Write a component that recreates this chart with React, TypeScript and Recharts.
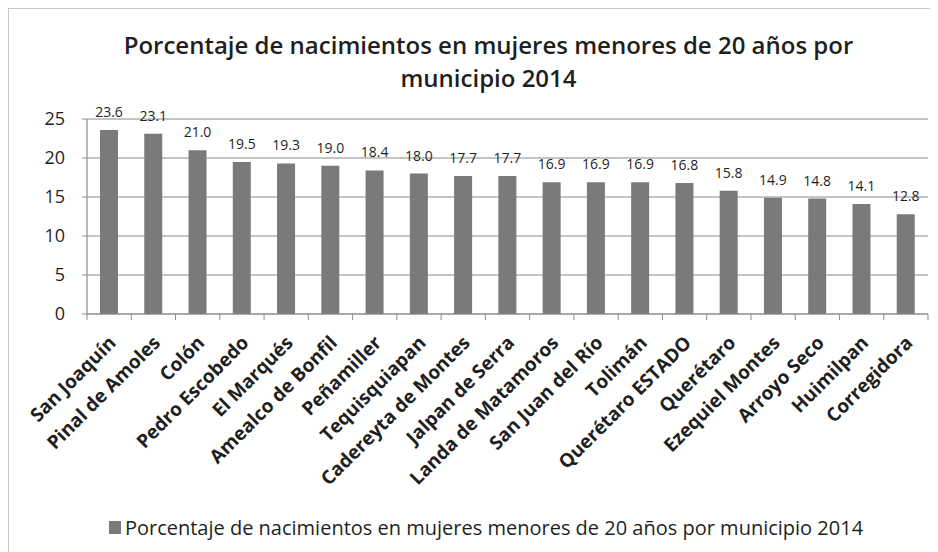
import React from "react";
import { Bar, BarChart, CartesianGrid, LabelList, XAxis, YAxis } from "recharts";

// Porcentaje de nacimientos en mujeres menores de 20 años, por municipio (2014)

const municipios = [
  "San Joaquín",
  "Pinal de Amoles",
  "Colón",
  "Pedro Escobedo",
  "El Marqués",
  "Amealco de Bonfil",
  "Peñamiller",
  "Tequisquiapan",
  "Cadereyta de Montes",
  "Jalpan de Serra",
  "Landa de Matamoros",
  "San Juan del Río",
  "Tolimán",
  "Querétaro ESTADO",
  "Querétaro",
  "Ezequiel Montes",
  "Arroyo Seco",
  "Huimilpan",
  "Corregidora",
];

const porcentajes = [
  23.6, 23.1, 21.0, 19.5, 19.3, 19.0, 18.4, 18.0, 17.7, 17.7, 16.9, 16.9, 16.9,
  16.8, 15.8, 14.9, 14.8, 14.1, 12.8,
];

const yTicks = [0, 5, 10, 15, 20, 25];

const TITLE = "Porcentaje de nacimientos en mujeres menores de 20 años por municipio 2014";

const data = municipios.map((name, i) => ({ name, value: porcentajes[i] }));

const W = 930;
const H = 544;
const M = { top: 111, right: 10, left: 19, bottom: 78 };
const Y_W = 60;
const BAND = (W - M.left - Y_W - M.right) / municipios.length;

const FONT = "'Open Sans', Lato, sans-serif";
const GRID = "#8c8c8c";
const BAR = "#7a7a7a";
const TEXT = "#1f1f1f";

function CatTick(props: any) {
  const { x, y, payload, index } = props;
  const last = index === municipios.length - 1;
  const ax = x + 8;
  const ay = y + 30;
  return (
    <g>
      <line x1={x - BAND / 2} x2={x - BAND / 2} y1={y} y2={y + 6} stroke={GRID} />
      {last && <line x1={x + BAND / 2} x2={x + BAND / 2} y1={y} y2={y + 6} stroke={GRID} />}
      <text
        x={ax}
        y={ay}
        transform={`rotate(-45, ${ax}, ${ay})`}
        textAnchor="end"
        fontSize={19}
        fontWeight={700}
        fill={TEXT}
        fontFamily={FONT}
      >
        {payload.value}
      </text>
    </g>
  );
}

export default function App() {
  return (
    <div
      style={{
        position: "relative",
        width: W,
        height: H,
        borderLeft: "1px solid #c8c8c8",
        borderTop: "1px solid #c8c8c8",
        boxSizing: "border-box",
        fontFamily: FONT,
        background: "#fff",
      }}
    >
      <div
        style={{
          position: "absolute",
          left: 0,
          top: 19,
          width: 959,
          textAlign: "center",
          fontSize: 24,
          fontWeight: 600,
          lineHeight: "33px",
          color: TEXT,
        }}
      >
        Porcentaje de nacimientos en mujeres menores de 20 años por
        <br />
        municipio 2014
      </div>
      <div style={{ position: "absolute", left: -1, top: -1 }}>
        <BarChart width={W} height={H} data={data} margin={M}>
          <CartesianGrid vertical={false} stroke={GRID} strokeWidth={1.2} />
          <XAxis
            dataKey="name"
            interval={0}
            height={160}
            tickLine={false}
            tickSize={0}
            tickMargin={0}
            axisLine={{ stroke: GRID, strokeWidth: 1.2 }}
            tick={<CatTick />}
          />
          <YAxis
            width={Y_W}
            domain={[0, 25]}
            ticks={yTicks}
            tickSize={5}
            tickMargin={17}
            tickLine={{ stroke: GRID }}
            axisLine={{ stroke: GRID, strokeWidth: 1.2 }}
            tick={{ fontSize: 18, fill: TEXT, fontFamily: FONT }}
          />
          <Bar dataKey="value" fill={BAR} barSize={18} isAnimationActive={false}>
            <LabelList
              dataKey="value"
              position="top"
              offset={13}
              formatter={(v: any) => Number(v).toFixed(1)}
              style={{ fontSize: 14, fill: TEXT, fontFamily: FONT }}
            />
          </Bar>
        </BarChart>
      </div>
      <div
        style={{
          position: "absolute",
          left: 0,
          top: 505,
          width: 954,
          display: "flex",
          justifyContent: "center",
          alignItems: "center",
          fontSize: 20,
          color: TEXT,
        }}
      >
        <span style={{ width: 12, height: 13, background: BAR, marginRight: 4, display: "inline-block" }} />
        <span>{TITLE}</span>
      </div>
    </div>
  );
}
